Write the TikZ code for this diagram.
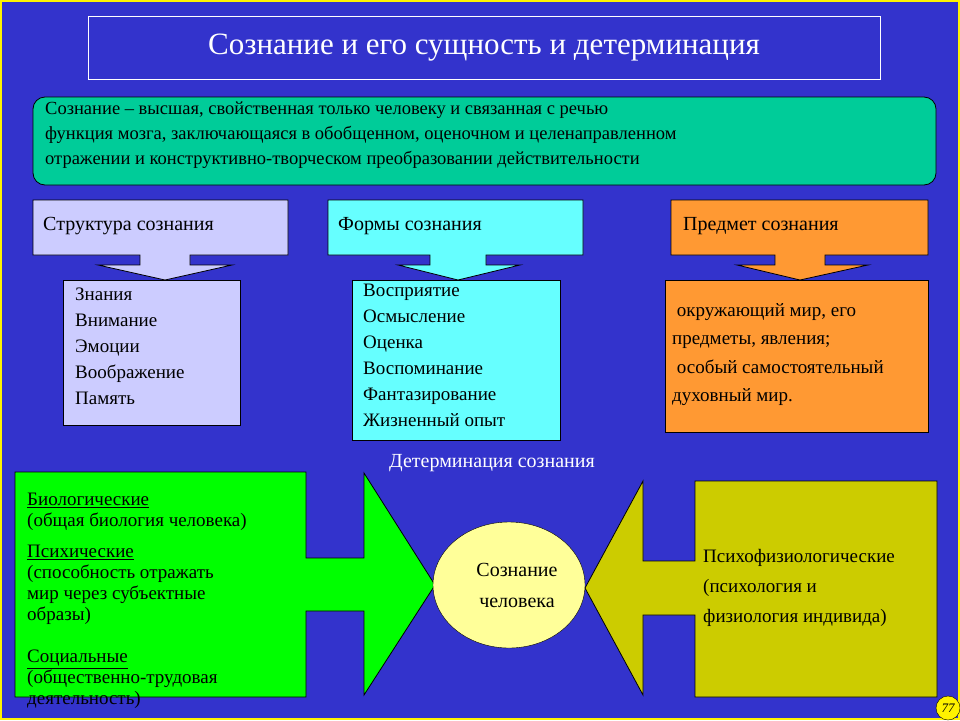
\documentclass[tikz,border=0pt]{standalone}
\usepackage{fontspec}
\setmainfont{Liberation Serif}
\usetikzlibrary{shapes.geometric}
\begin{document}
\begin{tikzpicture}[x=1pt,y=-1pt,
 bx/.style={draw=black,line width=0.8pt},
 txt/.style={anchor=north west,align=left,inner sep=0pt,font=\fontsize{19}{26}\selectfont},
 ar/.style={draw=black,line width=0.8pt}]
\definecolor{bg}{HTML}{3333CC}
\definecolor{lav}{HTML}{CCCCFF}
\definecolor{cy}{HTML}{66FFFF}
\definecolor{org}{HTML}{FF9933}
\definecolor{tl}{HTML}{00CC99}
\definecolor{gr}{HTML}{00FF00}
\definecolor{ol}{HTML}{CCCC00}
\definecolor{el}{HTML}{FFFF99}
\fill[bg] (0,0) rectangle (960,720);
\draw[yellow,line width=2pt] (1,1) rectangle (959,719);
\useasboundingbox (0,0) rectangle (960,720);
% title
\node[draw=white,line width=0.8pt,minimum width=792pt,minimum height=63pt,text=white,font=\fontsize{31}{36}\selectfont] (title) at (484,47.5) {Сознание и его сущность и детерминация};
% definition
\draw[bx,fill=tl,rounded corners=12pt] (33,97) rectangle (936,185);
\node[txt,font=\fontsize{18.5}{25}\selectfont] (def) at (45,102) {Сознание – высшая, свойственная только человеку и связанная с речью\\функция мозга, заключающаяся в обобщенном, оценочном и целенаправленном\\отражении и конструктивно-творческом преобразовании действительности};
% callouts
\foreach \l/\r/\sl/\sr/\hl/\hr/\tx/\c in {33/288/140/190/98/232/165/lav, 328/583/430/486/398/520/458/cy, 671/928/775/825/737/868/800/org}{
 \draw[ar,fill=\c] (\l,200) -- (\r,200) -- (\r,255) -- (\sr,255) -- (\sr,265) -- (\hr,265) -- (\tx,280) -- (\hl,265) -- (\sl,265) -- (\sl,255) -- (\l,255) -- cycle;
}
\node[txt,font=\fontsize{20}{24}\selectfont] (s1) at (43,217) {Структура сознания};
\node[txt,font=\fontsize{20}{24}\selectfont] (s2) at (338,217) {Формы сознания};
\node[txt,font=\fontsize{20}{24}\selectfont] (s3) at (683,217) {Предмет сознания};
% lists
\draw[bx,fill=lav] (63,280) rectangle (240,425);
\node[txt] (l1) at (75,288) {Знания\\Внимание\\Эмоции\\Воображение\\Память};
\draw[bx,fill=cy] (352,280) rectangle (560,440);
\node[txt] (l2) at (363,284) {Восприятие\\Осмысление\\Оценка\\Воспоминание\\Фантазирование\\Жизненный опыт};
\draw[bx,fill=org] (665,280) rectangle (928,432);
\node[txt,font=\fontsize{19}{28.5}\selectfont] (l3) at (672,303) {\ окружающий мир, его\\предметы, явления;\\\ особый самостоятельный\\духовный мир.};
% determination
\node[text=white,font=\fontsize{20}{24}\selectfont] (det) at (492,463) {Детерминация сознания};
\draw[ar,fill=gr] (15,472) -- (306,472) -- (306,558) -- (364,558) -- (364,473) -- (435,585) -- (364,695) -- (364,611) -- (306,611) -- (306,697) -- (15,697) -- cycle;
\draw[ar,fill=ol] (937,481) -- (695,481) -- (695,561) -- (643,561) -- (643,481) -- (585,588) -- (643,695) -- (643,615) -- (695,615) -- (695,697) -- (937,697) -- cycle;
\node[ellipse,draw=black,fill=el,minimum width=152pt,minimum height=126pt,inner sep=0pt] (ell) at (509,585) {};
\node[align=center,font=\fontsize{20}{31}\selectfont] (elt) at (517,585) {Сознание\\человека};
\node[txt,font=\fontsize{19}{21}\selectfont] (g1) at (27,493) {\underline{Биологические}\\(общая биология человека)};
\node[txt,font=\fontsize{19}{21}\selectfont] (g2) at (27,545) {\underline{Психические}\\(способность отражать\\мир через субъектные\\образы)};
\node[txt,font=\fontsize{19}{21}\selectfont] (g3) at (27,650) {\underline{Социальные}\\(общественно-трудовая\\деятельность)};
\node[txt,font=\fontsize{19}{30}\selectfont] (o1) at (703,549) {Психофизиологические\\(психология и\\физиология индивида)};
% page number
\node[circle,draw=black,fill=yellow,minimum size=24pt,inner sep=0pt,font=\itshape\fontsize{13}{13}\selectfont] (pg) at (948,708) {77};
\end{tikzpicture}
\end{document}
